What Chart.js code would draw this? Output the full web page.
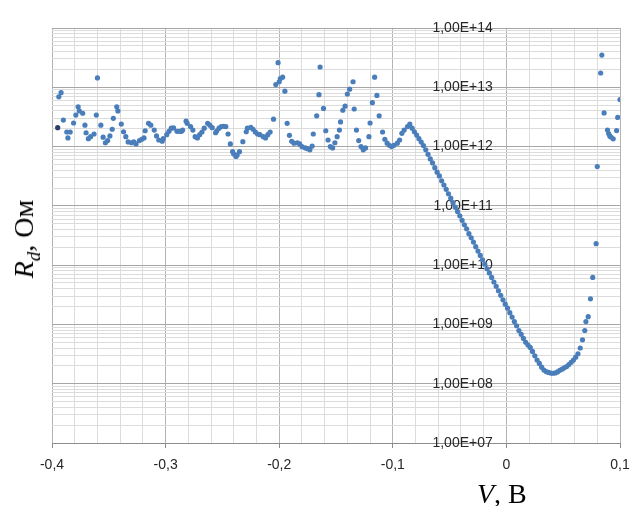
<!DOCTYPE html>
<html>
<head>
<meta charset="utf-8">
<script src="https://cdn.jsdelivr.net/npm/chart.js@4.4.1/dist/chart.umd.min.js"></script>
<style>
body { margin: 0; background: #fff; }
#wrap { position: relative; width: 632px; height: 506px; }
.ttl { position: absolute; font-family: "Liberation Serif", "DejaVu Serif", serif; font-size: 28px; line-height: 32px; color: #000; white-space: nowrap; }
.ttl sub { font-size: 19px; line-height: 0; }
#xTitle { left: 477px; top: 478px; }
#yTitle { left: 24px; top: 239px; transform: translate(-50%, -50%) rotate(-90deg); }
</style>
</head>
<body>
<div id="wrap">
  <canvas id="myChart" width="632" height="506"></canvas>
  <div class="ttl" id="xTitle"><i>V</i>, В</div>
  <div class="ttl" id="yTitle"><i>R<sub>d</sub></i>, Ом</div>
</div>
<script>
// V, В
const voltage = [
  -0.395,-0.394,-0.392,-0.390,-0.387,-0.386,-0.384,-0.381,-0.379,-0.377,
  -0.376,-0.373,-0.371,-0.370,-0.368,-0.366,-0.363,-0.361,-0.360,-0.357,
  -0.355,-0.353,-0.351,-0.349,-0.347,-0.346,-0.343,-0.342,-0.339,-0.337,
  -0.335,-0.333,-0.330,-0.328,-0.326,-0.323,-0.321,-0.319,-0.318,-0.315,
  -0.313,-0.310,-0.308,-0.306,-0.303,-0.302,-0.299,-0.297,-0.295,-0.293,
  -0.290,-0.288,-0.286,-0.285,-0.282,-0.281,-0.278,-0.276,-0.274,-0.272,
  -0.270,-0.268,-0.266,-0.263,-0.261,-0.259,-0.256,-0.255,-0.253,-0.251,
  -0.249,-0.247,-0.245,-0.243,-0.241,-0.240,-0.238,-0.237,-0.235,-0.232,
  -0.229,-0.228,-0.225,-0.223,-0.221,-0.219,-0.217,-0.214,-0.212,-0.210,
  -0.208,-0.205,-0.203,-0.201,-0.200,-0.199,-0.197,-0.195,-0.193,-0.191,
  -0.189,-0.187,-0.184,-0.182,-0.180,-0.177,-0.175,-0.173,-0.171,-0.170,
  -0.167,-0.165,-0.164,-0.161,-0.159,-0.157,-0.155,-0.153,-0.151,-0.149,
  -0.147,-0.146,-0.144,-0.142,-0.140,-0.138,-0.135,-0.134,-0.132,-0.130,
  -0.128,-0.126,-0.124,-0.121,-0.120,-0.118,-0.116,-0.114,-0.112,-0.109,
  -0.107,-0.105,-0.103,-0.101,-0.099,-0.096,-0.094,-0.092,-0.090,-0.087,
  -0.085,
  -0.083,-0.081,-0.079,-0.077,-0.075,-0.073,-0.071,-0.069,-0.067,-0.065,
  -0.063,-0.061,-0.059,-0.057,-0.055,-0.053,-0.051,-0.049,-0.047,-0.045,
  -0.043,-0.041,-0.039,-0.037,-0.035,-0.033,-0.031,-0.029,-0.027,-0.025,
  -0.023,-0.021,-0.019,-0.017,-0.015,-0.013,-0.011,-0.009,-0.007,-0.005,
  -0.003,-0.001,0.001,0.003,0.005,0.007,0.009,0.011,0.013,0.015,
  0.017,0.019,0.021,0.023,0.025,0.027,0.029,0.031,0.033,0.035,
  0.037,0.039,0.041,0.043,0.045,0.047,0.049,0.051,0.053,0.055,
  0.057,0.059,0.061,0.063,
  0.065,0.067,0.069,0.070,0.072,0.074,0.076,0.079,0.080,0.083,
  0.084,0.086,0.089,0.090,0.091,0.092,0.094,0.097,0.098,0.100
];

// Rd, Ом
const resistance = [
  2.08e12,6.9e12,8.1e12,2.8e12,1.76e12,1.40e12,1.76e12,2.5e12,3.4e12,4.7e12,
  4.0e12,3.65e12,2.3e12,1.71e12,1.36e12,1.47e12,1.63e12,3.4e12,1.44e13,2.3e12,
  1.44e12,1.16e12,1.26e12,1.51e12,1.96e12,3.0e12,4.7e12,4.0e12,2.4e12,1.78e12,
  1.47e12,1.20e12,1.16e12,1.20e12,1.11e12,1.26e12,1.33e12,1.40e12,1.85e12,2.47e12,
  2.3e12,1.9e12,1.51e12,1.29e12,1.23e12,1.36e12,1.59e12,1.81e12,2.04e12,2.06e12,
  1.81e12,1.81e12,1.81e12,1.9e12,2.7e12,2.47e12,2.17e12,1.9e12,1.47e12,1.40e12,
  1.59e12,1.76e12,2.04e12,2.47e12,2.3e12,2.08e12,1.71e12,1.83e12,2.04e12,2.17e12,
  2.2e12,2.17e12,1.63e12,1.11e12,8.2e11,7.5e11,6.8e11,7.2e11,8.2e11,1.21e12,
  1.78e12,2.04e12,2.1e12,1.96e12,1.76e12,1.63e12,1.59e12,1.47e12,1.40e12,1.59e12,
  1.76e12,2.9e12,1.11e13,2.6e13,1.24e13,1.40e13,1.48e13,8.6e12,2.47e12,1.55e12,
  1.23e12,1.14e12,1.16e12,1.11e12,1.0e12,9.5e11,9.2e11,8.8e11,1.02e12,1.63e12,
  3.3e12,7.5e12,2.2e13,4.4e12,1.85e12,1.29e12,1.0e12,9.5e11,1.16e12,1.47e12,
  1.9e12,2.6e12,4.1e12,4.8e12,7.7e12,9.3e12,1.24e13,4.3e12,1.9e12,1.26e12,
  1.0e12,8.8e11,9.5e11,1.47e12,2.5e12,5.5e12,1.48e13,7.3e12,3.3e12,1.76e12,
  1.33e12,1.14e12,1.05e12,1.0e12,1.05e12,1.14e12,1.29e12,1.67e12,1.9e12,2.17e12,
  2.4e12,
  2.04e12,1.78e12,1.56e12,1.36e12,1.19e12,1.04e12,8.8e11,7.4e11,6.2e11,5.3e11,
  4.4e11,3.7e11,3.2e11,2.65e11,2.25e11,1.9e11,1.6e11,1.35e11,1.13e11,9.5e10,
  8.0e10,6.8e10,5.7e10,4.8e10,4.1e10,3.4e10,2.9e10,2.45e10,2.05e10,1.73e10,
  1.46e10,1.23e10,1.04e10,8.7e9,7.4e9,6.2e9,5.2e9,4.4e9,3.7e9,3.1e9,
  2.6e9,2.2e9,1.88e9,1.58e9,1.33e9,1.12e9,9.5e8,7.9e8,6.8e8,5.8e8,
  5.0e8,4.5e8,4.1e8,3.5e8,2.95e8,2.5e8,2.2e8,1.9e8,1.7e8,1.6e8,
  1.55e8,1.51e8,1.5e8,1.52e8,1.58e8,1.68e8,1.76e8,1.85e8,1.95e8,2.1e8,
  2.3e8,2.5e8,2.8e8,3.2e8,
  4.0e8,5.5e8,7.9e8,1.12e9,1.35e9,2.7e9,6.2e9,2.3e10,4.6e11,1.74e13,
  3.5e13,3.7e12,1.9e12,1.66e12,1.51e12,1.45e12,1.35e12,1.86e12,3.1e12,6.2e12
];

const yDecades = [1e7, 1e8, 1e9, 1e10, 1e11, 1e12, 1e13, 1e14];
const yTickLabels = ['1,00E+07', '1,00E+08', '1,00E+09', '1,00E+10', '1,00E+11', '1,00E+12', '1,00E+13', '1,00E+14'];
const xMajor = [-0.4, -0.3, -0.2, -0.1, 0, 0.1];
const xTickLabels = ['-0,4', '-0,3', '-0,2', '-0,1', '0', '0,1'];

function xMajorIndex(v) {
  return xMajor.findIndex(m => Math.abs(m - v) < 1e-9);
}

const labelFont = { family: 'Liberation Sans', size: 14 };

var ctx = document.getElementById('myChart').getContext('2d');
var chart = new Chart(ctx, {
  type: 'scatter',
  data: {
    datasets: [{
      data: voltage.map((v, i) => ({ x: v, y: resistance[i] })),
      pointRadius: 2.6,
      pointHoverRadius: 2.6,
      pointBorderWidth: 0,
      pointBackgroundColor: c => c.dataIndex === 0 ? '#2b416b' : '#4a7ebb',
      showLine: false
    }]
  },
  options: {
    responsive: false,
    animation: false,
    layout: { padding: { left: 52, right: 12, top: 28, bottom: 0 } },
    plugins: { legend: { display: false }, tooltip: { enabled: false } },
    scales: {
      x: {
        type: 'linear',
        min: -0.4,
        max: 0.1,
        afterFit: s => { s.height = 63; },
        ticks: {
          stepSize: 0.02,
          autoSkip: false,
          maxRotation: 0,
          padding: 1,
          font: { family: 'Liberation Sans', size: 14, lineHeight: 2.3 },
          color: '#262626',
          callback: v => {
            const i = xMajorIndex(v);
            return i >= 0 ? xTickLabels[i] : '';
          }
        },
        grid: {
          color: c => xMajorIndex(c.tick.value) >= 0 ? '#b4b4b4' : '#dcdcdc',
          tickColor: c => xMajorIndex(c.tick.value) >= 0 ? '#8c8c8c' : 'rgba(0,0,0,0)',
          tickLength: 5
        },
        border: { color: '#8c8c8c' }
      },
      y: {
        type: 'logarithmic',
        min: 1e7,
        max: 1e14,
        position: { x: -0.012 },
        afterBuildTicks: s => {
          const t = [];
          yDecades.forEach((d, i) => {
            t.push({ value: d });
            if (i < yDecades.length - 1) {
              for (let k = 2; k < 10; k++) t.push({ value: d * k });
            }
          });
          s.ticks = t;
        },
        ticks: {
          autoSkip: false,
          padding: 0,
          font: labelFont,
          color: '#262626',
          callback: v => {
            const i = yDecades.indexOf(v);
            return i >= 0 ? yTickLabels[i] : '';
          }
        },
        grid: {
          color: c => yDecades.indexOf(c.tick.value) >= 0 ? '#a6a6a6' : '#dcdcdc',
          drawTicks: false
        },
        border: { display: false }
      }
    }
  }
});
</script>
</body>
</html>
